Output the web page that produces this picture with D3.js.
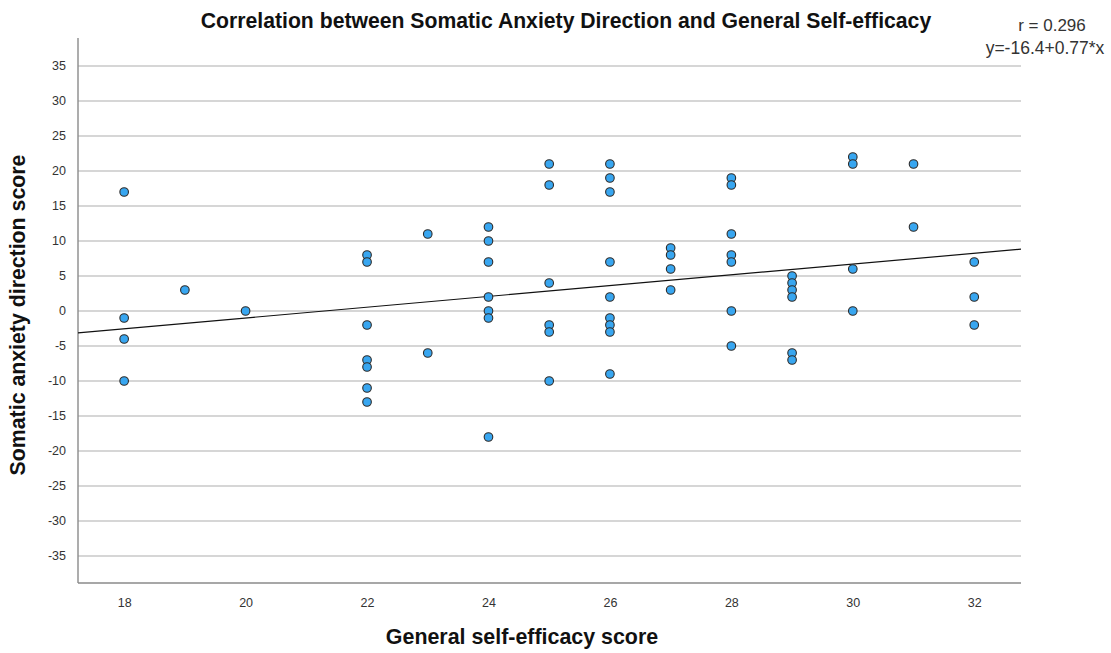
<!DOCTYPE html>
<html>
<head>
<meta charset="utf-8">
<script src="https://cdn.jsdelivr.net/npm/d3@7/dist/d3.min.js"></script>
<style>
html,body{margin:0;padding:0;background:#fff;}
svg{display:block;}
text{font-family:"Liberation Sans",Arial,sans-serif;}
</style>
</head>
<body>
<svg id="chart" width="1111" height="653"></svg>
<script>
// Data
const efficacyScores = [18,18,18,18, 19, 20, 22,22,22,22,22,22,22, 23,23, 24,24,24,24,24,24,24, 25,25,25,25,25,25, 26,26,26,26,26,26,26,26,26, 27,27,27,27, 28,28,28,28,28,28,28, 29,29,29,29,29,29, 30,30,30,30, 31,31, 32,32,32];
const anxietyScores  = [17,-1,-4,-10, 3, 0, 8,7,-2,-7,-8,-11,-13, 11,-6, 12,10,7,2,0,-1,-18, 21,18,4,-2,-3,-10, 21,19,17,7,2,-1,-2,-3,-9, 9,8,6,3, 19,18,11,8,7,0,-5, 5,4,3,2,-6,-7, 22,21,6,0, 21,12, 7,2,-2];
const xTicks = [18,20,22,24,26,28,30,32];
const yTicks = [35,30,25,20,15,10,5,0,-5,-10,-15,-20,-25,-30,-35];
const fitIntercept = -16.4;
const fitSlope = 0.77;
const rLabel = "r = 0.296";
const fitLabel = "y=-16.4+0.77*x";
const titleText = "Correlation between Somatic Anxiety Direction and General Self-efficacy";
const xTitle = "General self-efficacy score";
const yTitle = "Somatic anxiety direction score";

const svg = d3.select("#chart");
const L = 78, R = 1021, T = 38, B = 583;
const xDomain = [17.24, 32.77];
const yDomain = [-38.86, 39];
const x = d3.scaleLinear().domain(xDomain).range([L, R]);
const y = d3.scaleLinear().domain(yDomain).range([B, T]);
const fmt = d => String(d);

// grid lines
svg.append("g").selectAll("line").data(yTicks).join("line")
  .attr("x1", L).attr("x2", R)
  .attr("y1", d => y(d)).attr("y2", d => y(d))
  .attr("stroke", "#c8c8c8").attr("stroke-width", 1.6);

// y axis labels
const yAxis = d3.axisLeft(y).tickValues(yTicks).tickFormat(fmt).tickSize(0).tickPadding(12);
const gy = svg.append("g").attr("transform", `translate(${L},0)`).call(yAxis);
gy.select(".domain").remove();
gy.selectAll("text").attr("font-size", 12.5).attr("fill", "#333").attr("font-family", "Liberation Sans, Arial, sans-serif");

// x axis labels
const xAxis = d3.axisBottom(x).tickValues(xTicks).tickFormat(fmt).tickSize(0).tickPadding(15);
const gx = svg.append("g").attr("transform", `translate(0,${B})`).call(xAxis);
gx.select(".domain").remove();
gx.selectAll("text").attr("font-size", 12.5).attr("fill", "#333").attr("font-family", "Liberation Sans, Arial, sans-serif");

// axis lines
svg.append("line").attr("x1", L).attr("x2", L).attr("y1", T).attr("y2", B)
  .attr("stroke", "#8a8a8a").attr("stroke-width", 1.4);
svg.append("line").attr("x1", L).attr("x2", R).attr("y1", B).attr("y2", B)
  .attr("stroke", "#8a8a8a").attr("stroke-width", 1.4);

// fit line
svg.append("line")
  .attr("x1", x(xDomain[0])).attr("y1", y(fitIntercept + fitSlope * xDomain[0]))
  .attr("x2", x(xDomain[1])).attr("y2", y(fitIntercept + fitSlope * xDomain[1]))
  .attr("stroke", "#111").attr("stroke-width", 1.2);

// points
const pts = efficacyScores.map((v, i) => ({x: v, y: anxietyScores[i]}));
svg.append("g").selectAll("circle").data(pts).join("circle")
  .attr("cx", d => x(d.x)).attr("cy", d => y(d.y)).attr("r", 4.3)
  .attr("fill", "#38a6f0").attr("stroke", "#2a2a2a").attr("stroke-width", 1.1);

// title
svg.append("text").attr("x", 566).attr("y", 28).attr("text-anchor", "middle")
  .attr("font-size", 21.2).attr("font-weight", "bold").attr("fill", "#111").text(titleText);

// annotations
svg.append("text").attr("x", 1052).attr("y", 31).attr("text-anchor", "middle")
  .attr("font-size", 17).attr("fill", "#333").text(rLabel);
svg.append("text").attr("x", 1045).attr("y", 54).attr("text-anchor", "middle")
  .attr("font-size", 17.5).attr("fill", "#333").text(fitLabel);

// axis titles
svg.append("text").attr("x", 522).attr("y", 644).attr("text-anchor", "middle")
  .attr("font-size", 21.4).attr("font-weight", "bold").attr("fill", "#111").text(xTitle);
svg.append("text").attr("transform", "translate(25,315) rotate(-90)").attr("text-anchor", "middle")
  .attr("font-size", 21.3).attr("font-weight", "bold").attr("fill", "#111").text(yTitle);
</script>
</body>
</html>
